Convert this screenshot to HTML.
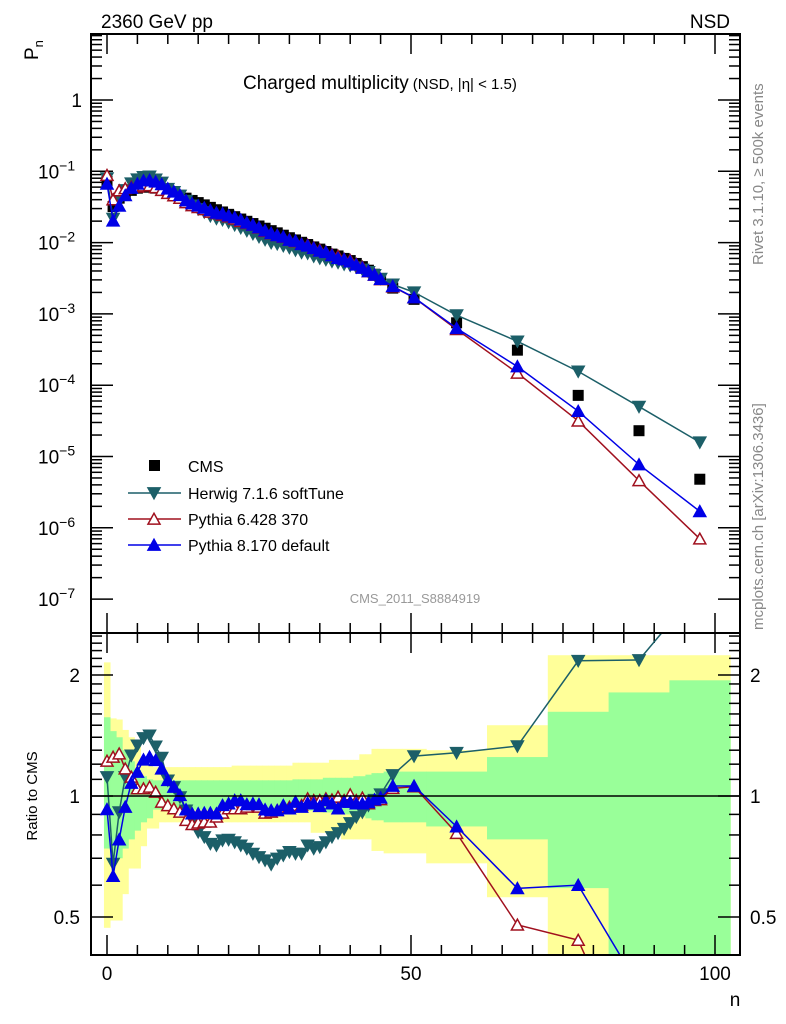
<!DOCTYPE html>
<html><head><meta charset="utf-8"><style>
html,body{margin:0;padding:0;background:#fff;width:786px;height:1024px;overflow:hidden;}
svg{display:block;font-family:"Liberation Sans",Arial,sans-serif;}
</style></head><body>
<svg id="chart" width="786" height="1024" viewBox="0 0 786 1024" xmlns="http://www.w3.org/2000/svg">
<defs>
<clipPath id="clipTop"><rect x="91" y="34" width="649" height="599"/></clipPath>
<clipPath id="clipBot"><rect x="91" y="633" width="649" height="322"/></clipPath>
</defs>
<g id="bands" clip-path="url(#clipBot)"></g>
<g id="ticks"></g>
<g id="series"></g>
<rect x="91" y="34" width="649" height="599" fill="none" stroke="#000" stroke-width="2"/>
<rect x="91" y="633" width="649" height="322" fill="none" stroke="#000" stroke-width="2"/>
<line x1="91" y1="796" x2="740" y2="796" stroke="#000" stroke-width="1.5"/>
<text x="101" y="28" font-size="19">2360 GeV pp</text>
<text x="730" y="28" font-size="19" text-anchor="end">NSD</text>
<text transform="translate(38,60) rotate(-90)" font-size="19">P<tspan font-size="13" dy="5">n</tspan></text>
<text x="243" y="89" font-size="19">Charged multiplicity<tspan font-size="15" dx="4">(NSD, |η| &lt; 1.5)</tspan></text>
<text transform="translate(763,265) rotate(-90)" font-size="15" fill="#888">Rivet 3.1.10, ≥ 500k events</text>
<text transform="translate(763,630) rotate(-90)" font-size="15" fill="#888">mcplots.cern.ch [arXiv:1306.3436]</text>
<text x="415" y="603" font-size="13" fill="#999" text-anchor="middle">CMS_2011_S8884919</text>
<text transform="translate(37,796) rotate(-90)" font-size="15" text-anchor="middle">Ratio to CMS</text>
<text x="735" y="1006" font-size="19" text-anchor="middle">n</text>
<g id="legend"></g>
<g id="labels"></g>
</svg>
<script>
// ---- data ----
const nCenters = [0,1,2,3,4,5,6,7,8,9,10,11,12,13,14,15,16,17,18,19,20,21,22,23,24,25,26,27,28,29,30,31,32,33,34,35,36,37,38,39,40,41,42,43,44,45,47,50.5,57.5,67.5,77.5,87.5,97.5];
const binLo = [-0.5,0.5,1.5,2.5,3.5,4.5,5.5,6.5,7.5,8.5,9.5,10.5,11.5,12.5,13.5,14.5,15.5,16.5,17.5,18.5,19.5,20.5,21.5,22.5,23.5,24.5,25.5,26.5,27.5,28.5,29.5,30.5,31.5,32.5,33.5,34.5,35.5,36.5,37.5,38.5,39.5,40.5,41.5,42.5,43.5,44.5,45.5,48.5,52.5,62.5,72.5,82.5,92.5];
const binHi = [0.5,1.5,2.5,3.5,4.5,5.5,6.5,7.5,8.5,9.5,10.5,11.5,12.5,13.5,14.5,15.5,16.5,17.5,18.5,19.5,20.5,21.5,22.5,23.5,24.5,25.5,26.5,27.5,28.5,29.5,30.5,31.5,32.5,33.5,34.5,35.5,36.5,37.5,38.5,39.5,40.5,41.5,42.5,43.5,44.5,45.5,48.5,52.5,62.5,72.5,82.5,92.5,102.5];
const cmsPn = [0.072,0.032,0.042,0.049,0.054,0.058,0.060,0.060,0.058,0.056,0.052,0.049,0.046,0.042,0.039,0.0364,0.0338,0.0312,0.0289,0.0269,0.0249,0.0231,0.0214,0.0199,0.0185,0.0171,0.0159,0.0147,0.0137,0.0127,0.0117,0.0109,0.0101,0.0094,0.0087,0.0081,0.0075,0.0069,0.0065,0.0060,0.0056,0.0051,0.0046,0.0041,0.0036,0.0031,0.0023,0.0016,7.5e-4,3.1e-4,7.2e-5,2.3e-5,4.8e-6];
const herwigRatio = [1.115,0.679,0.912,1.115,1.262,1.337,1.394,1.415,1.329,1.246,1.094,1.053,0.994,0.921,0.853,0.814,0.791,0.761,0.754,0.776,0.779,0.768,0.754,0.740,0.719,0.705,0.692,0.676,0.699,0.712,0.726,0.719,0.719,0.754,0.740,0.747,0.768,0.791,0.809,0.829,0.857,0.887,0.912,0.948,0.979,1.01,1.128,1.257,1.281,1.331,2.17,2.18,3.3];
const py6Ratio = [1.222,1.250,1.274,1.169,1.115,1.043,1.043,1.053,1.023,0.966,0.947,0.930,0.912,0.870,0.850,0.857,0.862,0.862,0.887,0.907,0.930,0.930,0.930,0.939,0.953,0.939,0.907,0.912,0.921,0.939,0.939,0.948,0.948,0.985,0.975,0.975,0.985,0.979,0.994,0.975,1.008,0.975,0.989,0.957,0.975,0.98,1.045,1.055,0.808,0.478,0.438,0.20,0.146];
const py8Ratio = [0.926,0.632,0.779,0.939,1.077,1.147,1.231,1.250,1.227,1.169,1.094,1.053,1.004,0.925,0.904,0.904,0.907,0.907,0.904,0.948,0.957,0.975,0.975,0.953,0.957,0.953,0.925,0.921,0.921,0.948,0.930,0.966,0.939,0.961,0.957,0.943,0.975,0.957,0.930,0.966,0.966,0.957,0.957,0.964,0.979,0.99,1.059,1.059,0.839,0.589,0.60,0.335,0.354];
const yelUp = [2.15,1.56,1.55,1.46,1.40,1.33,1.25,1.20,1.18,1.18,1.18,1.18,1.18,1.18,1.18,1.18,1.18,1.18,1.18,1.18,1.18,1.19,1.19,1.19,1.19,1.19,1.19,1.19,1.19,1.19,1.19,1.21,1.21,1.21,1.21,1.21,1.21,1.23,1.23,1.23,1.23,1.23,1.27,1.27,1.31,1.31,1.31,1.31,1.30,1.50,2.24,2.24,2.24];
const yelDn = [0.47,0.49,0.49,0.57,0.66,0.66,0.75,0.83,0.83,0.86,0.86,0.86,0.86,0.86,0.86,0.86,0.86,0.86,0.86,0.86,0.86,0.86,0.86,0.86,0.86,0.86,0.86,0.86,0.86,0.86,0.86,0.86,0.86,0.86,0.81,0.81,0.81,0.81,0.81,0.78,0.78,0.78,0.78,0.78,0.73,0.73,0.72,0.72,0.68,0.56,0.1,0.1,0.1];
const grnUp = [1.57,1.45,1.40,1.30,1.22,1.16,1.12,1.10,1.094,1.094,1.094,1.094,1.094,1.094,1.094,1.094,1.094,1.094,1.094,1.094,1.094,1.094,1.094,1.094,1.094,1.094,1.094,1.094,1.094,1.094,1.094,1.10,1.10,1.10,1.10,1.10,1.11,1.11,1.11,1.11,1.11,1.12,1.12,1.13,1.14,1.14,1.15,1.15,1.15,1.25,1.62,1.81,1.94];
const grnDn = [0.74,0.68,0.70,0.74,0.78,0.82,0.86,0.88,0.925,0.925,0.925,0.925,0.925,0.925,0.925,0.925,0.925,0.925,0.925,0.925,0.925,0.925,0.925,0.925,0.925,0.925,0.925,0.925,0.925,0.925,0.925,0.92,0.92,0.92,0.92,0.92,0.91,0.91,0.91,0.90,0.90,0.90,0.89,0.88,0.87,0.87,0.86,0.86,0.84,0.78,0.59,0.1,0.1];
const xTickLabels = ["0","50","100"];
const ratioTickLabels = ["0.5","1","2"];
const seriesNames = ["CMS","Herwig 7.1.6 softTune","Pythia 6.428 370","Pythia 8.170 default"];

// ---- scales ----
const NS="http://www.w3.org/2000/svg";
function xs(n){return 107+n*6.08;}
function yTop(p){return 100-71.3*Math.log10(p);}
function yRat(r){return 796-121*Math.log2(r);}
function mk(tag,attrs,parent){const e=document.createElementNS(NS,tag);for(const k in attrs)e.setAttribute(k,attrs[k]);parent.appendChild(e);return e;}
const svg=document.getElementById('chart');
const gBands=document.getElementById('bands');
const gTicks=document.getElementById('ticks');
const gSeries=document.getElementById('series');
const gLabels=document.getElementById('labels');
const gLegend=document.getElementById('legend');

// bands
for(let i=0;i<nCenters.length;i++){
  const x0=xs(binLo[i]),x1=xs(binHi[i]);
  const y=mk('rect',{x:x0,y:yRat(yelUp[i]),width:x1-x0+0.5,height:yRat(yelDn[i])-yRat(yelUp[i]),fill:'#ffff99'},gBands);
  
  
}
for(let i=0;i<nCenters.length;i++){
  const x0=xs(binLo[i]),x1=xs(binHi[i]);
  const g=mk('rect',{x:x0,y:yRat(grnUp[i]),width:x1-x0+0.5,height:yRat(grnDn[i])-yRat(grnUp[i]),fill:'#99ff99'},gBands);
  
  
}

// ticks
function tick(x1,y1,x2,y2){const t=mk('line',{x1:x1,y1:y1,x2:x2,y2:y2,stroke:'#000','stroke-width':1.5},gTicks);
  
  }
for(let d=0;d>=-7;d--){
  for(let m=1;m<10;m++){
    const p=m*Math.pow(10,d);const y=yTop(p);
    if(y<34||y>633)continue;
    const L=m===1?22:11;
    tick(91,y,91+L,y);tick(740,y,740-L,y);
  }
}
for(let n=0;n<=100;n+=5){
  const L=n%50===0?20:10;const x=xs(n);
  tick(x,34,x,34+L);tick(x,633,x,633-L);
  tick(x,633,x,633+L);tick(x,955,x,955-L);
}
for(let r=4;r<=25;r++){
  const v=r/10;const y=yRat(v);
  if(y<633||y>955)continue;
  const L=(v===0.5||v===1||v===2)?22:11;
  tick(91,y,91+L,y);tick(740,y,740-L,y);
}

// tick labels
function txt(x,y,s,attrs){const t=mk('text',Object.assign({x:x,y:y,'font-size':19},attrs||{}),gLabels);t.textContent=s;return t;}
let t1=txt(82,107,'1',{'text-anchor':'end'});


for(let d=-1;d>=-7;d--){
  const y=yTop(Math.pow(10,d));
  const t=mk('text',{x:38,y:y+7,'font-size':19},gLabels);
  
  
  t.appendChild(document.createTextNode('10'));
  const s=document.createElementNS(NS,'tspan');s.setAttribute('dy','-8');s.setAttribute('font-size','14');s.textContent='\u2212'+(-d);t.appendChild(s);
}
[0,50,100].forEach((n,i)=>{const t=txt(xs(n),980,xTickLabels[i],{'text-anchor':'middle'});
  
  });
[0.5,1,2].forEach((v,i)=>{
  const t=txt(80,yRat(v)+7,ratioTickLabels[i],{'text-anchor':'end'});
  
  
  const t2=txt(750,yRat(v)+7,ratioTickLabels[i],{});
  
  
});

// markers
function triUp(x,y,s){return `M${x-s},${y+s*0.85} L${x+s},${y+s*0.85} L${x},${y-s*0.95} Z`;}
function triDn(x,y,s){return `M${x-s},${y-s*0.85} L${x+s},${y-s*0.85} L${x},${y+s*0.95} Z`;}
function drawSeries(vals,ratioMode,color,shape,filled,name,clip){
  const g=mk('g',{'clip-path':clip},gSeries);
  
  
  const pts=nCenters.map((n,i)=>[xs(n),ratioMode?yRat(vals[i]):yTop(vals[i])]);
  const l=mk('polyline',{points:pts.map(p=>p.join(',')).join(' '),fill:'none',stroke:color,'stroke-width':1.5},g);
  
  
  pts.forEach(p=>{
    const d=shape==='up'?triUp(p[0],p[1],6):triDn(p[0],p[1],6);
    const m=mk('path',{d:d,fill:filled?color:'#fff',stroke:color,'stroke-width':1.5},g);
    
    
  });
}
// top panel: CMS squares
const gc=mk('g',{'clip-path':'url(#clipTop)'},gSeries);


nCenters.forEach((n,i)=>{const r=mk('rect',{x:xs(n)-5.5,y:yTop(cmsPn[i])-5.5,width:11,height:11,fill:'#000'},gc);
  
  });
const herwigPn=cmsPn.map((c,i)=>c*herwigRatio[i]);
const py6Pn=cmsPn.map((c,i)=>c*py6Ratio[i]);
const py8Pn=cmsPn.map((c,i)=>c*py8Ratio[i]);
drawSeries(herwigPn,false,'#1c5f68','down',true,'herwig-pn','url(#clipTop)');
drawSeries(py6Pn,false,'#a0101e','up',false,'pythia6-pn','url(#clipTop)');
drawSeries(py8Pn,false,'#0000e6','up',true,'pythia8-pn','url(#clipTop)');
drawSeries(herwigRatio,true,'#1c5f68','down',true,'herwig-ratio','url(#clipBot)');
drawSeries(py6Ratio,true,'#a0101e','up',false,'pythia6-ratio','url(#clipBot)');
drawSeries(py8Ratio,true,'#0000e6','up',true,'pythia8-ratio','url(#clipBot)');

// legend
const legY=[466,493,519,545];
const sq=mk('rect',{x:149,y:legY[0]-6,width:11,height:11,fill:'#000'},gLegend);


const legCols=[null,'#1c5f68','#a0101e','#0000e6'];
for(let i=1;i<4;i++){
  const ln=mk('line',{x1:128,y1:legY[i],x2:181,y2:legY[i],stroke:legCols[i],'stroke-width':1.5},gLegend);
  
  
  const d=i===1?triDn(154,legY[i],6):triUp(154,legY[i],6);
  const m=mk('path',{d:d,fill:i===2?'#fff':legCols[i],stroke:legCols[i],'stroke-width':1.5},gLegend);
  
  
}
for(let i=0;i<4;i++){
  const t=mk('text',{x:188,y:legY[i]+6,'font-size':16},gLegend);
  t.textContent=seriesNames[i];
  
  
}
</script>
</body></html>
